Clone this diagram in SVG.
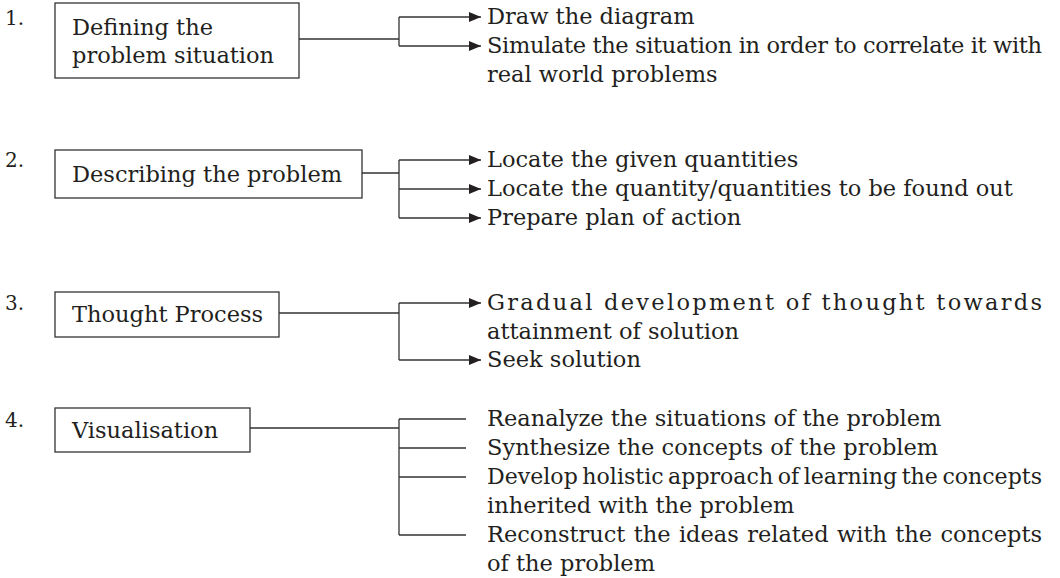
<svg xmlns="http://www.w3.org/2000/svg" width="1060" height="578" viewBox="0 0 1060 578">
<style>
text{font-family:"DejaVu Serif","Liberation Serif",serif;font-size:22.5px;fill:#231f20}
.num{font-size:20px}
.box{fill:#fff;stroke:#333;stroke-width:1.3}
.ln{fill:none;stroke:#333;stroke-width:1.3}
.arr{fill:none;stroke:#333;stroke-width:1.3;marker-end:url(#ah)}
</style>
<defs>
<marker id="ah" markerUnits="userSpaceOnUse" markerWidth="12" markerHeight="10" refX="12" refY="5" orient="auto">
<path d="M0,0 L12,5 L0,10 z" fill="#231f20"/>
</marker>
</defs>
<rect width="1060" height="578" fill="#fff"/>
<g id="connectors">
<path class="ln" d="M299,39 H399 M399,17 V46"/>
<path class="arr" d="M399,17 H481"/>
<path class="arr" d="M399,46 H481"/>
<path class="ln" d="M362,173 H399 M399,160 V218"/>
<path class="arr" d="M399,160 H481"/>
<path class="arr" d="M399,189 H481"/>
<path class="arr" d="M399,218 H481"/>
<path class="ln" d="M279,313 H399 M399,303 V360"/>
<path class="arr" d="M399,303 H481"/>
<path class="arr" d="M399,360 H481"/>
<path class="ln" d="M250,428 H399 M399,419 V535 M399,419 H466 M399,448 H466 M399,477 H466 M399,535 H466"/>
</g>
<g id="node1">
<text class="num" x="5" y="25">1.</text>
<rect class="box" x="55" y="3" width="244" height="75"/>
<text x="72" y="35">Defining the</text>
<text x="72" y="63">problem situation</text>
</g>
<g id="node1a"><text x="487" y="24">Draw the diagram</text></g>
<g id="node1b">
<text x="487" y="53" textLength="555" lengthAdjust="spacing">Simulate the situation in order to correlate it with</text>
<text x="487" y="82">real world problems</text>
</g>
<g id="node2">
<text class="num" x="5" y="167">2.</text>
<rect class="box" x="55" y="150" width="307" height="48"/>
<text x="72" y="182">Describing the problem</text>
</g>
<g id="node2a"><text x="487" y="167">Locate the given quantities</text></g>
<g id="node2b"><text x="487" y="196">Locate the quantity/quantities to be found out</text></g>
<g id="node2c"><text x="487" y="225">Prepare plan of action</text></g>
<g id="node3">
<text class="num" x="5" y="310">3.</text>
<rect class="box" x="55" y="292" width="224" height="45"/>
<text x="72" y="322">Thought Process</text>
</g>
<g id="node3a">
<text x="487" y="310" textLength="555" lengthAdjust="spacing">Gradual development of thought towards</text>
<text x="487" y="339">attainment of solution</text>
</g>
<g id="node3b"><text x="487" y="367">Seek solution</text></g>
<g id="node4">
<text class="num" x="5" y="427">4.</text>
<rect class="box" x="55" y="408" width="195" height="44"/>
<text x="72" y="438">Visualisation</text>
</g>
<g id="node4a"><text x="487" y="426">Reanalyze the situations of the problem</text></g>
<g id="node4b"><text x="487" y="455">Synthesize the concepts of the problem</text></g>
<g id="node4c">
<text x="487" y="484" textLength="555" lengthAdjust="spacingAndGlyphs" style="word-spacing:-2.5px">Develop holistic approach of learning the concepts</text>
<text x="487" y="513">inherited with the problem</text>
</g>
<g id="node4d">
<text x="487" y="542" textLength="555" lengthAdjust="spacing" style="word-spacing:1.2px">Reconstruct the ideas related with the concepts</text>
<text x="487" y="571">of the problem</text>
</g>
</svg>
